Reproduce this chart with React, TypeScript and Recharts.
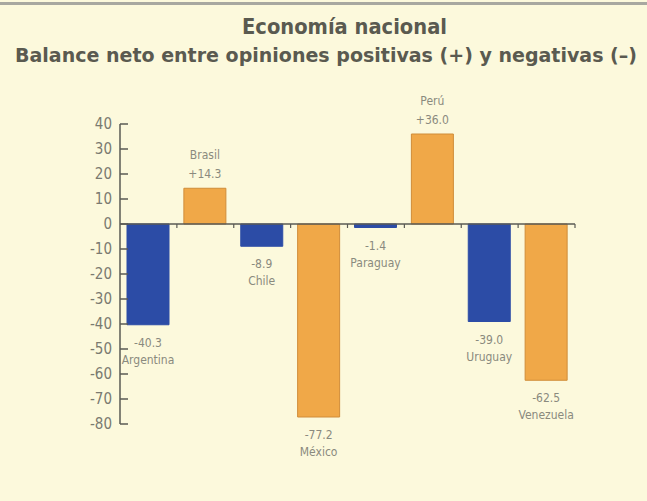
import React from "react";
import { BarChart, Bar, XAxis, YAxis, Cell, ReferenceLine, LabelList } from "recharts";

const countries = ["Argentina", "Brasil", "Chile", "México", "Paraguay", "Perú", "Uruguay", "Venezuela"];
const balance = [-40.3, 14.3, -8.9, -77.2, -1.4, 36.0, -39.0, -62.5];
const yTicks = [40, 30, 20, 10, 0, -10, -20, -30, -40, -50, -60, -70, -80];

const BLUE = "#2c4ca6";
const ORANGE = "#f0a848";
const barColors = [BLUE, ORANGE, BLUE, ORANGE, BLUE, ORANGE, BLUE, ORANGE];

const data = countries.map((name, i) => ({ name, value: balance[i] }));

const fmt = (v: number) => (v > 0 ? "+" : "") + v.toFixed(1);

const labelFont = "'DejaVu Sans Condensed', 'Liberation Sans Narrow', sans-serif";
const titleFont = "'DejaVu Sans Condensed', sans-serif";

function BarLabel(props: any) {
  const { x, y, width, height, index } = props;
  const v = balance[index];
  const cx = Number(x) + Number(width) / 2;
  const top = Math.min(Number(y), Number(y) + Number(height));
  const bottom = Math.max(Number(y), Number(y) + Number(height));
  const style = { fontFamily: labelFont, fontSize: 12, fill: "#8a8a7e" };
  if (v >= 0) {
    return (
      <g>
        <text x={cx} y={top - 29} textAnchor="middle" {...style}>{countries[index]}</text>
        <text x={cx} y={top - 10} textAnchor="middle" {...style}>{fmt(v)}</text>
      </g>
    );
  }
  return (
    <g>
      <text x={cx} y={bottom + 22} textAnchor="middle" {...style}>{fmt(v)}</text>
      <text x={cx} y={bottom + 39} textAnchor="middle" {...style}>{countries[index]}</text>
    </g>
  );
}

function YTick(props: any) {
  const { x, y, payload } = props;
  return (
    <g>
      <line x1={x + 8} x2={x + 16} y1={y} y2={y} stroke="#5a5a55" strokeWidth={1.5} />
      <text x={x} y={y} dy={5} textAnchor="end" fontFamily={labelFont} fontSize={15} fill="#7a7a70">
        {payload.value}
      </text>
    </g>
  );
}

export default function App() {
  return (
    <div style={{ position: "fixed", left: 0, top: 0, width: 647, height: 501, background: "#fcf9dc", overflow: "hidden" }}>
      <div style={{ position: "absolute", left: 0, top: 2, width: 647, height: 3, background: "#a8a8a0" }} />
      <svg width={647} height={80} style={{ position: "absolute", left: 0, top: 0 }}>
        <text x={242} y={34} textLength={205} lengthAdjust="spacingAndGlyphs"
          fontFamily={titleFont} fontWeight="bold" fontSize={21} fill="#5a5a50">
          Economía nacional
        </text>
        <text x={15} y={62} textLength={622} lengthAdjust="spacingAndGlyphs"
          fontFamily={titleFont} fontWeight="bold" fontSize={20} fill="#5a5a50">
          Balance neto entre opiniones positivas (+) y negativas (–)
        </text>
      </svg>
      <div style={{ position: "absolute", left: 0, top: 0 }}>
        <BarChart width={647} height={501} data={data} margin={{ top: 124, right: 72, bottom: 77, left: 60 }} barSize={42}>
          <XAxis dataKey="name" hide />
          <YAxis
            type="number"
            domain={[-80, 40]}
            ticks={yTicks}
            interval={0}
            width={60}
            tickSize={0}
            tickMargin={8}
            tickLine={false}
            axisLine={{ stroke: "#5a5a55", strokeWidth: 1.5 }}
            tick={<YTick />}
          />
          <Bar dataKey="value" isAnimationActive={false}>
            {data.map((d, i) => (
              <Cell key={d.name} fill={barColors[i]} stroke={barColors[i] === ORANGE ? "#d08c38" : BLUE} strokeWidth={1} />
            ))}
            <LabelList dataKey="value" content={<BarLabel />} />
          </Bar>
          <ReferenceLine y={0} stroke="#5a5a55" strokeWidth={1.5} />
          {countries.slice(1).map((c) => (
            <ReferenceLine key={c} segment={[{ x: c, y: 0 }, { x: c, y: -1.6 }]} position="start" stroke="#5a5a55" strokeWidth={1.2} />
          ))}
          <ReferenceLine segment={[{ x: "Venezuela", y: 0 }, { x: "Venezuela", y: -1.6 }]} position="end" stroke="#5a5a55" strokeWidth={1.2} />
        </BarChart>
      </div>
    </div>
  );
}
